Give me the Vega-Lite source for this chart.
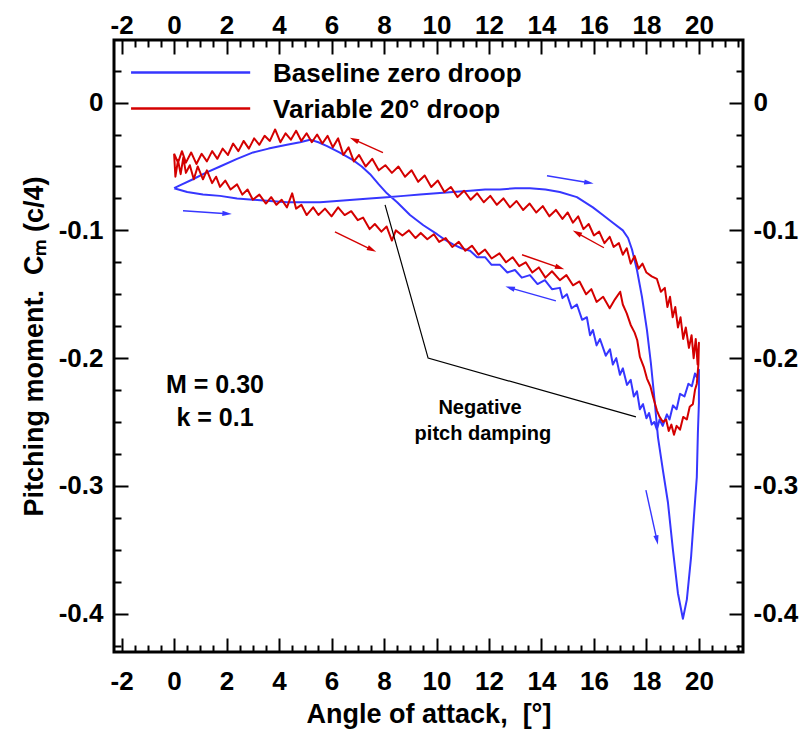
{
  "$schema": "https://vega.github.io/schema/vega-lite/v6.json",
  "width": 629,
  "height": 612,
  "autosize": {"type": "none"},
  "padding": {"left": 114, "top": 40, "right": 67, "bottom": 84},
  "background": "white",
  "config": {
    "view": {"stroke": "black", "strokeWidth": 3},
    "font": "Liberation Sans",
    "axis": {
      "labelFont": "Liberation Sans", "labelFontWeight": "bold", "labelFontSize": 26, "labelColor": "black",
      "tickColor": "black", "tickWidth": 2, "domain": false, "grid": false,
      "titleFont": "Liberation Sans", "titleFontWeight": "bold", "titleFontSize": 27, "titleColor": "black",
      "labelOverlap": false, "labelBound": false, "labelFlush": false
    }
  },
  "datasets": {
    "curves": [
      {"curve": "baseline", "alpha": 0.00, "cm": -0.067},
      {"curve": "baseline", "alpha": 0.50, "cm": -0.070},
      {"curve": "baseline", "alpha": 1.10, "cm": -0.072},
      {"curve": "baseline", "alpha": 1.75, "cm": -0.073},
      {"curve": "baseline", "alpha": 2.40, "cm": -0.075},
      {"curve": "baseline", "alpha": 3.01, "cm": -0.076},
      {"curve": "baseline", "alpha": 3.65, "cm": -0.077},
      {"curve": "baseline", "alpha": 4.30, "cm": -0.078},
      {"curve": "baseline", "alpha": 4.95, "cm": -0.078},
      {"curve": "baseline", "alpha": 5.56, "cm": -0.078},
      {"curve": "baseline", "alpha": 6.20, "cm": -0.077},
      {"curve": "baseline", "alpha": 6.82, "cm": -0.076},
      {"curve": "baseline", "alpha": 7.45, "cm": -0.075},
      {"curve": "baseline", "alpha": 8.11, "cm": -0.074},
      {"curve": "baseline", "alpha": 8.75, "cm": -0.073},
      {"curve": "baseline", "alpha": 9.37, "cm": -0.072},
      {"curve": "baseline", "alpha": 10.00, "cm": -0.071},
      {"curve": "baseline", "alpha": 10.63, "cm": -0.070},
      {"curve": "baseline", "alpha": 11.28, "cm": -0.069},
      {"curve": "baseline", "alpha": 11.85, "cm": -0.068},
      {"curve": "baseline", "alpha": 12.42, "cm": -0.068},
      {"curve": "baseline", "alpha": 13.00, "cm": -0.067},
      {"curve": "baseline", "alpha": 13.56, "cm": -0.067},
      {"curve": "baseline", "alpha": 14.15, "cm": -0.068},
      {"curve": "baseline", "alpha": 14.70, "cm": -0.070},
      {"curve": "baseline", "alpha": 15.35, "cm": -0.074},
      {"curve": "baseline", "alpha": 15.96, "cm": -0.082},
      {"curve": "baseline", "alpha": 16.34, "cm": -0.088},
      {"curve": "baseline", "alpha": 16.72, "cm": -0.094},
      {"curve": "baseline", "alpha": 17.10, "cm": -0.100},
      {"curve": "baseline", "alpha": 17.30, "cm": -0.106},
      {"curve": "baseline", "alpha": 17.45, "cm": -0.115},
      {"curve": "baseline", "alpha": 17.64, "cm": -0.131},
      {"curve": "baseline", "alpha": 17.83, "cm": -0.152},
      {"curve": "baseline", "alpha": 18.02, "cm": -0.178},
      {"curve": "baseline", "alpha": 18.17, "cm": -0.204},
      {"curve": "baseline", "alpha": 18.32, "cm": -0.235},
      {"curve": "baseline", "alpha": 18.44, "cm": -0.262},
      {"curve": "baseline", "alpha": 18.63, "cm": -0.288},
      {"curve": "baseline", "alpha": 18.82, "cm": -0.313},
      {"curve": "baseline", "alpha": 19.01, "cm": -0.350},
      {"curve": "baseline", "alpha": 19.20, "cm": -0.384},
      {"curve": "baseline", "alpha": 19.39, "cm": -0.404},
      {"curve": "baseline", "alpha": 19.54, "cm": -0.389},
      {"curve": "baseline", "alpha": 19.70, "cm": -0.356},
      {"curve": "baseline", "alpha": 19.81, "cm": -0.324},
      {"curve": "baseline", "alpha": 19.92, "cm": -0.293},
      {"curve": "baseline", "alpha": 19.96, "cm": -0.259},
      {"curve": "baseline", "alpha": 20.00, "cm": -0.235},
      {"curve": "baseline", "alpha": 20.00, "cm": -0.209},
      {"curve": "baseline", "alpha": 19.92, "cm": -0.215},
      {"curve": "baseline", "alpha": 19.85, "cm": -0.212},
      {"curve": "baseline", "alpha": 19.73, "cm": -0.222},
      {"curve": "baseline", "alpha": 19.60, "cm": -0.220},
      {"curve": "baseline", "alpha": 19.45, "cm": -0.230},
      {"curve": "baseline", "alpha": 19.28, "cm": -0.228},
      {"curve": "baseline", "alpha": 19.15, "cm": -0.240},
      {"curve": "baseline", "alpha": 19.01, "cm": -0.237},
      {"curve": "baseline", "alpha": 18.88, "cm": -0.248},
      {"curve": "baseline", "alpha": 18.78, "cm": -0.244},
      {"curve": "baseline", "alpha": 18.62, "cm": -0.253},
      {"curve": "baseline", "alpha": 18.50, "cm": -0.248},
      {"curve": "baseline", "alpha": 18.40, "cm": -0.256},
      {"curve": "baseline", "alpha": 18.30, "cm": -0.250},
      {"curve": "baseline", "alpha": 18.20, "cm": -0.252},
      {"curve": "baseline", "alpha": 18.10, "cm": -0.243},
      {"curve": "baseline", "alpha": 18.00, "cm": -0.247},
      {"curve": "baseline", "alpha": 17.87, "cm": -0.236},
      {"curve": "baseline", "alpha": 17.75, "cm": -0.240},
      {"curve": "baseline", "alpha": 17.64, "cm": -0.226},
      {"curve": "baseline", "alpha": 17.52, "cm": -0.230},
      {"curve": "baseline", "alpha": 17.40, "cm": -0.217},
      {"curve": "baseline", "alpha": 17.26, "cm": -0.221},
      {"curve": "baseline", "alpha": 17.10, "cm": -0.208},
      {"curve": "baseline", "alpha": 16.99, "cm": -0.213},
      {"curve": "baseline", "alpha": 16.85, "cm": -0.200},
      {"curve": "baseline", "alpha": 16.72, "cm": -0.205},
      {"curve": "baseline", "alpha": 16.61, "cm": -0.193},
      {"curve": "baseline", "alpha": 16.45, "cm": -0.198},
      {"curve": "baseline", "alpha": 16.23, "cm": -0.185},
      {"curve": "baseline", "alpha": 16.10, "cm": -0.190},
      {"curve": "baseline", "alpha": 15.96, "cm": -0.178},
      {"curve": "baseline", "alpha": 15.85, "cm": -0.182},
      {"curve": "baseline", "alpha": 15.73, "cm": -0.168},
      {"curve": "baseline", "alpha": 15.55, "cm": -0.170},
      {"curve": "baseline", "alpha": 15.35, "cm": -0.158},
      {"curve": "baseline", "alpha": 15.15, "cm": -0.161},
      {"curve": "baseline", "alpha": 14.97, "cm": -0.150},
      {"curve": "baseline", "alpha": 14.80, "cm": -0.153},
      {"curve": "baseline", "alpha": 14.70, "cm": -0.145},
      {"curve": "baseline", "alpha": 14.40, "cm": -0.146},
      {"curve": "baseline", "alpha": 14.13, "cm": -0.139},
      {"curve": "baseline", "alpha": 13.85, "cm": -0.142},
      {"curve": "baseline", "alpha": 13.56, "cm": -0.135},
      {"curve": "baseline", "alpha": 13.25, "cm": -0.137},
      {"curve": "baseline", "alpha": 12.99, "cm": -0.131},
      {"curve": "baseline", "alpha": 12.70, "cm": -0.133},
      {"curve": "baseline", "alpha": 12.42, "cm": -0.127},
      {"curve": "baseline", "alpha": 12.10, "cm": -0.127},
      {"curve": "baseline", "alpha": 11.85, "cm": -0.121},
      {"curve": "baseline", "alpha": 11.55, "cm": -0.121},
      {"curve": "baseline", "alpha": 11.28, "cm": -0.116},
      {"curve": "baseline", "alpha": 10.95, "cm": -0.114},
      {"curve": "baseline", "alpha": 10.63, "cm": -0.111},
      {"curve": "baseline", "alpha": 10.30, "cm": -0.107},
      {"curve": "baseline", "alpha": 10.02, "cm": -0.103},
      {"curve": "baseline", "alpha": 9.50, "cm": -0.096},
      {"curve": "baseline", "alpha": 8.99, "cm": -0.088},
      {"curve": "baseline", "alpha": 8.50, "cm": -0.078},
      {"curve": "baseline", "alpha": 8.11, "cm": -0.071},
      {"curve": "baseline", "alpha": 7.80, "cm": -0.064},
      {"curve": "baseline", "alpha": 7.47, "cm": -0.056},
      {"curve": "baseline", "alpha": 7.15, "cm": -0.050},
      {"curve": "baseline", "alpha": 6.82, "cm": -0.045},
      {"curve": "baseline", "alpha": 6.30, "cm": -0.039},
      {"curve": "baseline", "alpha": 5.83, "cm": -0.034},
      {"curve": "baseline", "alpha": 5.50, "cm": -0.031},
      {"curve": "baseline", "alpha": 5.18, "cm": -0.029},
      {"curve": "baseline", "alpha": 4.80, "cm": -0.031},
      {"curve": "baseline", "alpha": 4.30, "cm": -0.033},
      {"curve": "baseline", "alpha": 3.60, "cm": -0.036},
      {"curve": "baseline", "alpha": 3.01, "cm": -0.039},
      {"curve": "baseline", "alpha": 2.40, "cm": -0.044},
      {"curve": "baseline", "alpha": 1.75, "cm": -0.050},
      {"curve": "baseline", "alpha": 1.20, "cm": -0.055},
      {"curve": "baseline", "alpha": 0.72, "cm": -0.060},
      {"curve": "baseline", "alpha": 0.30, "cm": -0.064},
      {"curve": "baseline", "alpha": 0.00, "cm": -0.067},

      {"curve": "droop", "alpha": 0.00, "cm": -0.040},
      {"curve": "droop", "alpha": 0.05, "cm": -0.058},
      {"curve": "droop", "alpha": 0.15, "cm": -0.045},
      {"curve": "droop", "alpha": 0.25, "cm": -0.056},
      {"curve": "droop", "alpha": 0.35, "cm": -0.043},
      {"curve": "droop", "alpha": 0.45, "cm": -0.055},
      {"curve": "droop", "alpha": 0.60, "cm": -0.049},
      {"curve": "droop", "alpha": 0.75, "cm": -0.060},
      {"curve": "droop", "alpha": 0.90, "cm": -0.050},
      {"curve": "droop", "alpha": 1.10, "cm": -0.060},
      {"curve": "droop", "alpha": 1.25, "cm": -0.053},
      {"curve": "droop", "alpha": 1.45, "cm": -0.063},
      {"curve": "droop", "alpha": 1.60, "cm": -0.058},
      {"curve": "droop", "alpha": 1.75, "cm": -0.066},
      {"curve": "droop", "alpha": 1.95, "cm": -0.061},
      {"curve": "droop", "alpha": 2.15, "cm": -0.068},
      {"curve": "droop", "alpha": 2.40, "cm": -0.064},
      {"curve": "droop", "alpha": 2.60, "cm": -0.072},
      {"curve": "droop", "alpha": 2.80, "cm": -0.068},
      {"curve": "droop", "alpha": 3.00, "cm": -0.076},
      {"curve": "droop", "alpha": 3.25, "cm": -0.072},
      {"curve": "droop", "alpha": 3.50, "cm": -0.079},
      {"curve": "droop", "alpha": 3.70, "cm": -0.074},
      {"curve": "droop", "alpha": 3.90, "cm": -0.080},
      {"curve": "droop", "alpha": 4.10, "cm": -0.076},
      {"curve": "droop", "alpha": 4.30, "cm": -0.082},
      {"curve": "droop", "alpha": 4.50, "cm": -0.071},
      {"curve": "droop", "alpha": 4.65, "cm": -0.083},
      {"curve": "droop", "alpha": 4.85, "cm": -0.080},
      {"curve": "droop", "alpha": 5.05, "cm": -0.088},
      {"curve": "droop", "alpha": 5.30, "cm": -0.082},
      {"curve": "droop", "alpha": 5.50, "cm": -0.088},
      {"curve": "droop", "alpha": 5.75, "cm": -0.083},
      {"curve": "droop", "alpha": 6.00, "cm": -0.089},
      {"curve": "droop", "alpha": 6.25, "cm": -0.082},
      {"curve": "droop", "alpha": 6.50, "cm": -0.088},
      {"curve": "droop", "alpha": 6.75, "cm": -0.085},
      {"curve": "droop", "alpha": 7.00, "cm": -0.092},
      {"curve": "droop", "alpha": 7.20, "cm": -0.090},
      {"curve": "droop", "alpha": 7.45, "cm": -0.099},
      {"curve": "droop", "alpha": 7.65, "cm": -0.095},
      {"curve": "droop", "alpha": 7.90, "cm": -0.101},
      {"curve": "droop", "alpha": 8.10, "cm": -0.097},
      {"curve": "droop", "alpha": 8.30, "cm": -0.108},
      {"curve": "droop", "alpha": 8.45, "cm": -0.100},
      {"curve": "droop", "alpha": 8.70, "cm": -0.104},
      {"curve": "droop", "alpha": 8.95, "cm": -0.100},
      {"curve": "droop", "alpha": 9.20, "cm": -0.106},
      {"curve": "droop", "alpha": 9.40, "cm": -0.102},
      {"curve": "droop", "alpha": 9.65, "cm": -0.107},
      {"curve": "droop", "alpha": 9.90, "cm": -0.103},
      {"curve": "droop", "alpha": 10.10, "cm": -0.109},
      {"curve": "droop", "alpha": 10.35, "cm": -0.106},
      {"curve": "droop", "alpha": 10.60, "cm": -0.113},
      {"curve": "droop", "alpha": 10.85, "cm": -0.109},
      {"curve": "droop", "alpha": 11.10, "cm": -0.116},
      {"curve": "droop", "alpha": 11.35, "cm": -0.112},
      {"curve": "droop", "alpha": 11.60, "cm": -0.119},
      {"curve": "droop", "alpha": 11.85, "cm": -0.115},
      {"curve": "droop", "alpha": 12.10, "cm": -0.122},
      {"curve": "droop", "alpha": 12.40, "cm": -0.118},
      {"curve": "droop", "alpha": 12.65, "cm": -0.125},
      {"curve": "droop", "alpha": 12.90, "cm": -0.121},
      {"curve": "droop", "alpha": 13.15, "cm": -0.128},
      {"curve": "droop", "alpha": 13.40, "cm": -0.125},
      {"curve": "droop", "alpha": 13.65, "cm": -0.133},
      {"curve": "droop", "alpha": 13.90, "cm": -0.129},
      {"curve": "droop", "alpha": 14.15, "cm": -0.137},
      {"curve": "droop", "alpha": 14.40, "cm": -0.132},
      {"curve": "droop", "alpha": 14.70, "cm": -0.139},
      {"curve": "droop", "alpha": 14.95, "cm": -0.135},
      {"curve": "droop", "alpha": 15.20, "cm": -0.143},
      {"curve": "droop", "alpha": 15.45, "cm": -0.140},
      {"curve": "droop", "alpha": 15.70, "cm": -0.150},
      {"curve": "droop", "alpha": 15.90, "cm": -0.146},
      {"curve": "droop", "alpha": 16.10, "cm": -0.156},
      {"curve": "droop", "alpha": 16.35, "cm": -0.152},
      {"curve": "droop", "alpha": 16.60, "cm": -0.161},
      {"curve": "droop", "alpha": 16.80, "cm": -0.154},
      {"curve": "droop", "alpha": 17.00, "cm": -0.148},
      {"curve": "droop", "alpha": 17.10, "cm": -0.158},
      {"curve": "droop", "alpha": 17.25, "cm": -0.165},
      {"curve": "droop", "alpha": 17.40, "cm": -0.174},
      {"curve": "droop", "alpha": 17.55, "cm": -0.180},
      {"curve": "droop", "alpha": 17.65, "cm": -0.186},
      {"curve": "droop", "alpha": 17.75, "cm": -0.199},
      {"curve": "droop", "alpha": 17.90, "cm": -0.207},
      {"curve": "droop", "alpha": 18.02, "cm": -0.216},
      {"curve": "droop", "alpha": 18.15, "cm": -0.222},
      {"curve": "droop", "alpha": 18.25, "cm": -0.230},
      {"curve": "droop", "alpha": 18.40, "cm": -0.241},
      {"curve": "droop", "alpha": 18.50, "cm": -0.246},
      {"curve": "droop", "alpha": 18.63, "cm": -0.250},
      {"curve": "droop", "alpha": 18.75, "cm": -0.248},
      {"curve": "droop", "alpha": 18.85, "cm": -0.257},
      {"curve": "droop", "alpha": 18.95, "cm": -0.252},
      {"curve": "droop", "alpha": 19.05, "cm": -0.260},
      {"curve": "droop", "alpha": 19.15, "cm": -0.253},
      {"curve": "droop", "alpha": 19.28, "cm": -0.256},
      {"curve": "droop", "alpha": 19.40, "cm": -0.246},
      {"curve": "droop", "alpha": 19.54, "cm": -0.248},
      {"curve": "droop", "alpha": 19.65, "cm": -0.238},
      {"curve": "droop", "alpha": 19.77, "cm": -0.236},
      {"curve": "droop", "alpha": 19.85, "cm": -0.225},
      {"curve": "droop", "alpha": 19.92, "cm": -0.220},
      {"curve": "droop", "alpha": 19.98, "cm": -0.205},
      {"curve": "droop", "alpha": 20.00, "cm": -0.188},
      {"curve": "droop", "alpha": 19.95, "cm": -0.205},
      {"curve": "droop", "alpha": 19.88, "cm": -0.185},
      {"curve": "droop", "alpha": 19.80, "cm": -0.200},
      {"curve": "droop", "alpha": 19.72, "cm": -0.182},
      {"curve": "droop", "alpha": 19.62, "cm": -0.192},
      {"curve": "droop", "alpha": 19.50, "cm": -0.176},
      {"curve": "droop", "alpha": 19.40, "cm": -0.185},
      {"curve": "droop", "alpha": 19.30, "cm": -0.168},
      {"curve": "droop", "alpha": 19.20, "cm": -0.176},
      {"curve": "droop", "alpha": 19.10, "cm": -0.160},
      {"curve": "droop", "alpha": 19.00, "cm": -0.168},
      {"curve": "droop", "alpha": 18.90, "cm": -0.152},
      {"curve": "droop", "alpha": 18.80, "cm": -0.160},
      {"curve": "droop", "alpha": 18.70, "cm": -0.145},
      {"curve": "droop", "alpha": 18.55, "cm": -0.148},
      {"curve": "droop", "alpha": 18.40, "cm": -0.138},
      {"curve": "droop", "alpha": 18.20, "cm": -0.136},
      {"curve": "droop", "alpha": 18.00, "cm": -0.133},
      {"curve": "droop", "alpha": 17.85, "cm": -0.126},
      {"curve": "droop", "alpha": 17.70, "cm": -0.130},
      {"curve": "droop", "alpha": 17.55, "cm": -0.120},
      {"curve": "droop", "alpha": 17.40, "cm": -0.126},
      {"curve": "droop", "alpha": 17.25, "cm": -0.114},
      {"curve": "droop", "alpha": 17.10, "cm": -0.119},
      {"curve": "droop", "alpha": 16.95, "cm": -0.110},
      {"curve": "droop", "alpha": 16.75, "cm": -0.113},
      {"curve": "droop", "alpha": 16.60, "cm": -0.105},
      {"curve": "droop", "alpha": 16.40, "cm": -0.110},
      {"curve": "droop", "alpha": 16.20, "cm": -0.101},
      {"curve": "droop", "alpha": 16.00, "cm": -0.104},
      {"curve": "droop", "alpha": 15.80, "cm": -0.095},
      {"curve": "droop", "alpha": 15.60, "cm": -0.099},
      {"curve": "droop", "alpha": 15.40, "cm": -0.089},
      {"curve": "droop", "alpha": 15.20, "cm": -0.094},
      {"curve": "droop", "alpha": 15.00, "cm": -0.086},
      {"curve": "droop", "alpha": 14.80, "cm": -0.091},
      {"curve": "droop", "alpha": 14.55, "cm": -0.084},
      {"curve": "droop", "alpha": 14.30, "cm": -0.089},
      {"curve": "droop", "alpha": 14.05, "cm": -0.081},
      {"curve": "droop", "alpha": 13.80, "cm": -0.086},
      {"curve": "droop", "alpha": 13.55, "cm": -0.079},
      {"curve": "droop", "alpha": 13.30, "cm": -0.084},
      {"curve": "droop", "alpha": 13.05, "cm": -0.077},
      {"curve": "droop", "alpha": 12.80, "cm": -0.082},
      {"curve": "droop", "alpha": 12.55, "cm": -0.075},
      {"curve": "droop", "alpha": 12.30, "cm": -0.080},
      {"curve": "droop", "alpha": 12.05, "cm": -0.073},
      {"curve": "droop", "alpha": 11.80, "cm": -0.078},
      {"curve": "droop", "alpha": 11.55, "cm": -0.071},
      {"curve": "droop", "alpha": 11.30, "cm": -0.076},
      {"curve": "droop", "alpha": 11.05, "cm": -0.069},
      {"curve": "droop", "alpha": 10.80, "cm": -0.074},
      {"curve": "droop", "alpha": 10.55, "cm": -0.066},
      {"curve": "droop", "alpha": 10.30, "cm": -0.070},
      {"curve": "droop", "alpha": 10.05, "cm": -0.061},
      {"curve": "droop", "alpha": 9.80, "cm": -0.066},
      {"curve": "droop", "alpha": 9.55, "cm": -0.057},
      {"curve": "droop", "alpha": 9.30, "cm": -0.062},
      {"curve": "droop", "alpha": 9.05, "cm": -0.053},
      {"curve": "droop", "alpha": 8.80, "cm": -0.058},
      {"curve": "droop", "alpha": 8.55, "cm": -0.050},
      {"curve": "droop", "alpha": 8.30, "cm": -0.055},
      {"curve": "droop", "alpha": 8.05, "cm": -0.049},
      {"curve": "droop", "alpha": 7.80, "cm": -0.053},
      {"curve": "droop", "alpha": 7.55, "cm": -0.044},
      {"curve": "droop", "alpha": 7.30, "cm": -0.050},
      {"curve": "droop", "alpha": 7.05, "cm": -0.041},
      {"curve": "droop", "alpha": 6.85, "cm": -0.046},
      {"curve": "droop", "alpha": 6.65, "cm": -0.035},
      {"curve": "droop", "alpha": 6.45, "cm": -0.041},
      {"curve": "droop", "alpha": 6.25, "cm": -0.028},
      {"curve": "droop", "alpha": 6.05, "cm": -0.035},
      {"curve": "droop", "alpha": 5.85, "cm": -0.026},
      {"curve": "droop", "alpha": 5.65, "cm": -0.032},
      {"curve": "droop", "alpha": 5.45, "cm": -0.025},
      {"curve": "droop", "alpha": 5.25, "cm": -0.031},
      {"curve": "droop", "alpha": 5.05, "cm": -0.024},
      {"curve": "droop", "alpha": 4.85, "cm": -0.030},
      {"curve": "droop", "alpha": 4.65, "cm": -0.022},
      {"curve": "droop", "alpha": 4.45, "cm": -0.029},
      {"curve": "droop", "alpha": 4.25, "cm": -0.024},
      {"curve": "droop", "alpha": 4.05, "cm": -0.031},
      {"curve": "droop", "alpha": 3.85, "cm": -0.021},
      {"curve": "droop", "alpha": 3.65, "cm": -0.030},
      {"curve": "droop", "alpha": 3.45, "cm": -0.026},
      {"curve": "droop", "alpha": 3.25, "cm": -0.033},
      {"curve": "droop", "alpha": 3.05, "cm": -0.028},
      {"curve": "droop", "alpha": 2.85, "cm": -0.036},
      {"curve": "droop", "alpha": 2.65, "cm": -0.030},
      {"curve": "droop", "alpha": 2.45, "cm": -0.038},
      {"curve": "droop", "alpha": 2.25, "cm": -0.032},
      {"curve": "droop", "alpha": 2.05, "cm": -0.041},
      {"curve": "droop", "alpha": 1.85, "cm": -0.036},
      {"curve": "droop", "alpha": 1.65, "cm": -0.044},
      {"curve": "droop", "alpha": 1.45, "cm": -0.038},
      {"curve": "droop", "alpha": 1.25, "cm": -0.046},
      {"curve": "droop", "alpha": 1.05, "cm": -0.040},
      {"curve": "droop", "alpha": 0.85, "cm": -0.048},
      {"curve": "droop", "alpha": 0.65, "cm": -0.039},
      {"curve": "droop", "alpha": 0.45, "cm": -0.047},
      {"curve": "droop", "alpha": 0.30, "cm": -0.038},
      {"curve": "droop", "alpha": 0.15, "cm": -0.047},
      {"curve": "droop", "alpha": 0.00, "cm": -0.040}
    ],
    "arrows": [
      {"curve": "baseline", "a1": 0.34, "c1": -0.0846, "a2": 2.02, "c2": -0.0870, "heading": 94},
      {"curve": "baseline", "a1": 14.21, "c1": -0.0572, "a2": 15.81, "c2": -0.0627, "heading": 99},
      {"curve": "baseline", "a1": 14.55, "c1": -0.1552, "a2": 12.80, "c2": -0.1450, "heading": 286},
      {"curve": "baseline", "a1": 17.98, "c1": -0.3033, "a2": 18.40, "c2": -0.3425, "heading": 168},
      {"curve": "droop", "a1": 7.96, "c1": -0.0392, "a2": 6.86, "c2": -0.0290, "heading": 295},
      {"curve": "droop", "a1": 6.13, "c1": -0.1011, "a2": 7.54, "c2": -0.1152, "heading": 116},
      {"curve": "droop", "a1": 13.26, "c1": -0.1191, "a2": 14.70, "c2": -0.1293, "heading": 109},
      {"curve": "droop", "a1": 16.38, "c1": -0.1136, "a2": 15.35, "c2": -0.1019, "heading": 299}
    ],
    "pointer": [
      {"alpha": 8.04, "cm": -0.080},
      {"alpha": 9.68, "cm": -0.200},
      {"alpha": 17.60, "cm": -0.246}
    ],
    "legend": [
      {"curve": "baseline", "label": "Baseline zero droop", "a1": -1.64, "a2": 2.90, "cm": 0.0235, "at": 3.77, "ct": 0.0225},
      {"curve": "droop", "label": "Variable 20° droop", "a1": -1.64, "a2": 2.90, "cm": -0.0047, "at": 3.77, "ct": -0.006}
    ],
    "notes": [
      {"label": "M = 0.30", "alpha": 1.56, "cm": -0.221},
      {"label": "k = 0.1", "alpha": 1.56, "cm": -0.247}
    ],
    "damping": [
      {"label": "Negative", "alpha": 11.66, "cm": -0.239},
      {"label": "pitch damping", "alpha": 11.77, "cm": -0.259}
    ]
  },
  "layer": [
    {
      "data": {"name": "curves"},
      "mark": {"type": "line", "strokeWidth": 2, "strokeJoin": "round"},
      "encoding": {
        "x": {
          "field": "alpha", "type": "quantitative",
          "scale": {"domain": [-2.29, 21.68], "nice": false, "zero": false},
          "axis": {
            "orient": "bottom",
            "values": [-2,-1.5,-1,-0.5,0,0.5,1,1.5,2,2.5,3,3.5,4,4.5,5,5.5,6,6.5,7,7.5,8,8.5,9,9.5,10,10.5,11,11.5,12,12.5,13,13.5,14,14.5,15,15.5,16,16.5,17,17.5,18,18.5,19,19.5,20,20.5,21,21.5],
            "labelExpr": "datum.value % 2 == 0 ? (datum.value < 0 ? '-' + abs(datum.value) : '' + datum.value) : ''",
            "tickSize": {"condition": {"test": "datum.value % 2 == 0", "value": -14}, "value": -7},
            "labelPadding": 30,
            "title": "Angle of attack,\u00a0\u00a0[°]",
            "titlePadding": 0
          }
        },
        "y": {
          "field": "cm", "type": "quantitative",
          "scale": {"domain": [-0.43, 0.049], "nice": false, "zero": false},
          "axis": {
            "orient": "left",
            "values": [-0.425,-0.4,-0.375,-0.35,-0.325,-0.3,-0.275,-0.25,-0.225,-0.2,-0.175,-0.15,-0.125,-0.1,-0.075,-0.05,-0.025,0,0.025],
            "labelExpr": "abs(datum.value*10 - round(datum.value*10)) < 0.001 ? (abs(datum.value) < 0.001 ? '0' : '-' + format(abs(datum.value), '.1f')) : ''",
            "tickSize": {"condition": {"test": "abs(datum.value*10 - round(datum.value*10)) < 0.001", "value": -14}, "value": -7},
            "labelPadding": 25,
            "title": "Pitching moment.\u00a0\u00a0Cₘ (c/4)",
            "titlePadding": 10
          }
        },
        "color": {"field": "curve", "type": "nominal", "scale": {"domain": ["baseline", "droop"], "range": ["#3636ff", "#d40000"]}, "legend": null},
        "order": {"value": null}
      }
    },
    {
      "data": {"name": "pointer"},
      "mark": {"type": "line", "color": "black", "strokeWidth": 1.2},
      "encoding": {
        "x": {
          "field": "alpha", "type": "quantitative",
          "axis": {
            "orient": "top",
            "values": [-2,-1.5,-1,-0.5,0,0.5,1,1.5,2,2.5,3,3.5,4,4.5,5,5.5,6,6.5,7,7.5,8,8.5,9,9.5,10,10.5,11,11.5,12,12.5,13,13.5,14,14.5,15,15.5,16,16.5,17,17.5,18,18.5,19,19.5,20,20.5,21,21.5],
            "labelExpr": "datum.value % 2 == 0 ? (datum.value < 0 ? '-' + abs(datum.value) : '' + datum.value) : ''",
            "tickSize": {"condition": {"test": "datum.value % 2 == 0", "value": -14}, "value": -7},
            "labelPadding": 16,
            "title": null
          }
        },
        "y": {
          "field": "cm", "type": "quantitative",
          "axis": {
            "orient": "right",
            "values": [-0.425,-0.4,-0.375,-0.35,-0.325,-0.3,-0.275,-0.25,-0.225,-0.2,-0.175,-0.15,-0.125,-0.1,-0.075,-0.05,-0.025,0,0.025],
            "labelExpr": "abs(datum.value*10 - round(datum.value*10)) < 0.001 ? (abs(datum.value) < 0.001 ? '0' : '-' + format(abs(datum.value), '.1f')) : ''",
            "tickSize": {"condition": {"test": "abs(datum.value*10 - round(datum.value*10)) < 0.001", "value": -14}, "value": -7},
            "labelPadding": 24,
            "title": null
          }
        },
        "order": {"value": null}
      }
    },
    {
      "data": {"name": "arrows"},
      "mark": {"type": "rule", "strokeWidth": 1.4},
      "encoding": {
        "x": {"field": "a1", "type": "quantitative", "axis": null},
        "y": {"field": "c1", "type": "quantitative", "axis": null},
        "x2": {"field": "a2"},
        "y2": {"field": "c2"},
        "color": {"field": "curve", "type": "nominal", "legend": null}
      }
    },
    {
      "data": {"name": "arrows"},
      "mark": {"type": "point", "filled": true, "opacity": 1, "shape": "M0,-1L0.55,1L-0.55,1Z", "size": 90},
      "encoding": {
        "x": {"field": "a2", "type": "quantitative", "axis": null},
        "y": {"field": "c2", "type": "quantitative", "axis": null},
        "angle": {"field": "heading", "type": "quantitative", "scale": null},
        "color": {"field": "curve", "type": "nominal", "legend": null}
      }
    },
    {
      "data": {"name": "legend"},
      "mark": {"type": "rule", "strokeWidth": 2.5},
      "encoding": {
        "x": {"field": "a1", "type": "quantitative", "axis": null},
        "x2": {"field": "a2"},
        "y": {"field": "cm", "type": "quantitative", "axis": null},
        "color": {"field": "curve", "type": "nominal", "legend": null}
      }
    },
    {
      "data": {"name": "legend"},
      "mark": {"type": "text", "align": "left", "baseline": "middle", "font": "Liberation Sans", "fontWeight": "bold", "fontSize": 26, "color": "black"},
      "encoding": {
        "x": {"field": "at", "type": "quantitative", "axis": null},
        "y": {"field": "ct", "type": "quantitative", "axis": null},
        "text": {"field": "label"}
      }
    },
    {
      "data": {"name": "notes"},
      "mark": {"type": "text", "align": "center", "baseline": "middle", "font": "Liberation Sans", "fontWeight": "bold", "fontSize": 25, "color": "black"},
      "encoding": {
        "x": {"field": "alpha", "type": "quantitative", "axis": null},
        "y": {"field": "cm", "type": "quantitative", "axis": null},
        "text": {"field": "label"}
      }
    },
    {
      "data": {"name": "damping"},
      "mark": {"type": "text", "align": "center", "baseline": "middle", "font": "Liberation Sans", "fontWeight": "bold", "fontSize": 20, "color": "black"},
      "encoding": {
        "x": {"field": "alpha", "type": "quantitative", "axis": null},
        "y": {"field": "cm", "type": "quantitative", "axis": null},
        "text": {"field": "label"}
      }
    }
  ],
  "resolve": {"axis": {"x": "independent", "y": "independent"}}
}
